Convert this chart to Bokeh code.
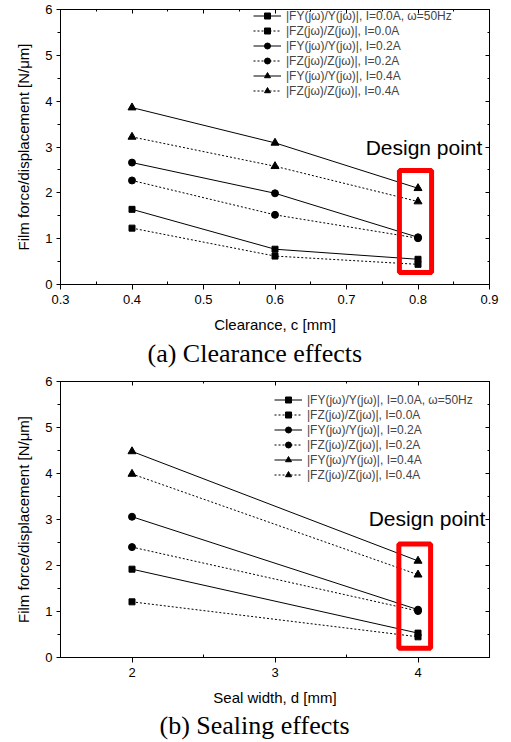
from bokeh.plotting import figure
from bokeh.models import (Legend, LegendItem, BoxAnnotation, Label, LinearAxis,
                          FixedTicker, Range1d, Title, CustomJSTickFormatter)
from bokeh.layouts import column
from bokeh.embed import file_html
from bokeh.resources import INLINE

# ---------------- data ----------------
clearance = [0.4, 0.6, 0.8]
fy_00_c = [1.64, 0.77, 0.55]
fz_00_c = [1.23, 0.62, 0.44]
fy_02_c = [2.66, 1.99, 1.03]
fz_02_c = [2.27, 1.52, 1.01]
fy_04_c = [3.86, 3.09, 2.10]
fz_04_c = [3.22, 2.58, 1.81]

seal_width = [2, 4]
fy_00_s = [1.92, 0.53]
fz_00_s = [1.21, 0.45]
fy_02_s = [3.06, 1.04]
fz_02_s = [2.40, 1.01]
fy_04_s = [4.48, 2.10]
fz_04_s = [3.99, 1.80]

series_labels = [
    "|FY(jω)/Y(jω)|, I=0.0A, ω=50Hz",
    "|FZ(jω)/Z(jω)|, I=0.0A",
    "|FY(jω)/Y(jω)|, I=0.2A",
    "|FZ(jω)/Z(jω)|, I=0.2A",
    "|FY(jω)/Y(jω)|, I=0.4A",
    "|FZ(jω)/Z(jω)|, I=0.4A",
]
series_markers = ["square", "square", "circle", "circle", "triangle", "triangle"]
series_dash = ["solid", "2 2", "solid", "2 2", "solid", "2 2"]

clearance_ticks = [0.3, 0.4, 0.5, 0.6, 0.7, 0.8, 0.9]
clearance_minor = [0.35, 0.45, 0.55, 0.65, 0.75, 0.85]
seal_ticks = [2, 3, 4]
seal_minor = [1.5, 2.5, 3.5, 4.5]
y_ticks = [0, 1, 2, 3, 4, 5, 6]
y_minor = [0.5, 1.5, 2.5, 3.5, 4.5, 5.5]

design_c = 0.8
design_s = 4
box_c = dict(left=0.774, right=0.819, bottom=0.26, top=2.49)
box_s = dict(left=3.866, right=4.088, bottom=0.20, top=2.47)

FONT = "Liberation Sans"
SERIF = "Liberation Serif"
MSIZE = {"square": 6, "circle": 7, "triangle": 8}
W = 505


def make_fig(height, border_top, border_bottom, xr, xt, xminor, xlabel, caption, cap_standoff,
             cap_offset, xs, ys_list, legend_xy, box, dx, dlabel_y, dlabel_off):
    p = figure(width=W, height=height, output_backend="svg", toolbar_location=None,
               x_range=Range1d(*xr), y_range=Range1d(0, 6),
               min_border_left=60, min_border_right=W - 489,
               min_border_top=border_top, min_border_bottom=border_bottom,
               x_axis_label=xlabel, y_axis_label="Film force/displacement [N/μm]")
    p.grid.visible = False
    p.outline_line_color = "black"
    p.background_fill_color = "white"
    p.border_fill_color = "white"

    xa = p.xaxis[0]
    xa.ticker = FixedTicker(ticks=xt, minor_ticks=xminor)
    xa.major_tick_out = 5
    xa.major_tick_in = 0
    xa.minor_tick_out = 0
    xa.minor_tick_in = 3
    xa.major_label_standoff = 5
    xa.axis_label_standoff = 9
    ya = p.yaxis[0]
    ya.ticker = FixedTicker(ticks=y_ticks, minor_ticks=y_minor)
    ya.major_tick_out = 4
    ya.major_tick_in = 0
    ya.minor_tick_out = 3
    ya.minor_tick_in = 0
    ya.major_label_standoff = 4
    ya.axis_label_standoff = 10
    for ax in (xa, ya):
        ax.major_label_text_font = FONT
        ax.major_label_text_font_size = "13px"
        ax.major_label_text_color = "black"
        ax.axis_label_text_font = FONT
        ax.axis_label_text_font_size = "15px"
        ax.axis_label_text_font_style = "normal"
        ax.axis_label_text_color = "black"
        ax.axis_line_color = "black"
        ax.major_tick_line_color = "black"
        ax.minor_tick_line_color = "black"

    blank = CustomJSTickFormatter(code="return ''")
    top_ax = LinearAxis(ticker=FixedTicker(ticks=xt, minor_ticks=xminor), formatter=blank,
                        major_tick_in=4, major_tick_out=0, minor_tick_in=2, minor_tick_out=0,
                        major_label_standoff=0, major_label_text_font_size="1px")
    right_ax = LinearAxis(ticker=FixedTicker(ticks=y_ticks, minor_ticks=y_minor), formatter=blank,
                          major_tick_in=4, major_tick_out=0, minor_tick_in=2, minor_tick_out=0,
                          major_label_standoff=0, major_label_text_font_size="1px")
    p.add_layout(top_ax, "above")
    p.add_layout(right_ax, "right")

    items = []
    for ys, lab, mk, dash in zip(ys_list, series_labels, series_markers, series_dash):
        lr = p.line(xs, ys, line_color="black", line_width=1, line_dash=dash)
        sr = p.scatter(xs, ys, marker=mk, size=MSIZE[mk], fill_color="black", line_color="black")
        items.append(LegendItem(label=lab, renderers=[lr, sr]))

    leg = Legend(items=items, location=legend_xy, padding=0, margin=0, spacing=0,
                 label_height=15, glyph_height=15, glyph_width=28, label_standoff=5,
                 label_text_font=FONT, label_text_font_size="12px",
                 border_line_alpha=0, background_fill_alpha=0)
    p.add_layout(leg, "center")

    p.add_layout(BoxAnnotation(left=box["left"], right=box["right"], bottom=box["bottom"],
                               top=box["top"], fill_alpha=0, line_color="#ff0000",
                               line_width=5, line_alpha=1))
    p.add_layout(Label(x=dx, y=dlabel_y, x_offset=dlabel_off, text="Design point",
                       text_align="center", text_baseline="alphabetic",
                       text_font=FONT, text_font_size="21px", text_color="black"))

    p.add_layout(Title(text=caption, align="left", offset=cap_offset, text_font=SERIF,
                       text_font_size="26px", text_font_style="normal",
                       text_color="black", standoff=cap_standoff), "below")
    return p


p1 = make_fig(370, 9, 86, (0.3, 0.9), clearance_ticks, clearance_minor,
              "Clearance, c [mm]", "(a) Clearance effects", 2, 87,
              clearance, [fy_00_c, fz_00_c, fy_02_c, fz_02_c, fy_04_c, fz_04_c],
              (193, 186), box_c, design_c, 2.98, 6)
p2 = make_fig(371, 11, 84, (1.5, 4.5), seal_ticks, seal_minor,
              "Seal width, d [mm]", "(b) Sealing effects", 0, 99,
              seal_width, [fy_00_s, fz_00_s, fy_02_s, fz_02_s, fy_04_s, fz_04_s],
              (214, 175), box_s, design_s, 3.03, 9)

layout = column(p1, p2, spacing=0)
open("out.html", "w").write(file_html(layout, INLINE))
